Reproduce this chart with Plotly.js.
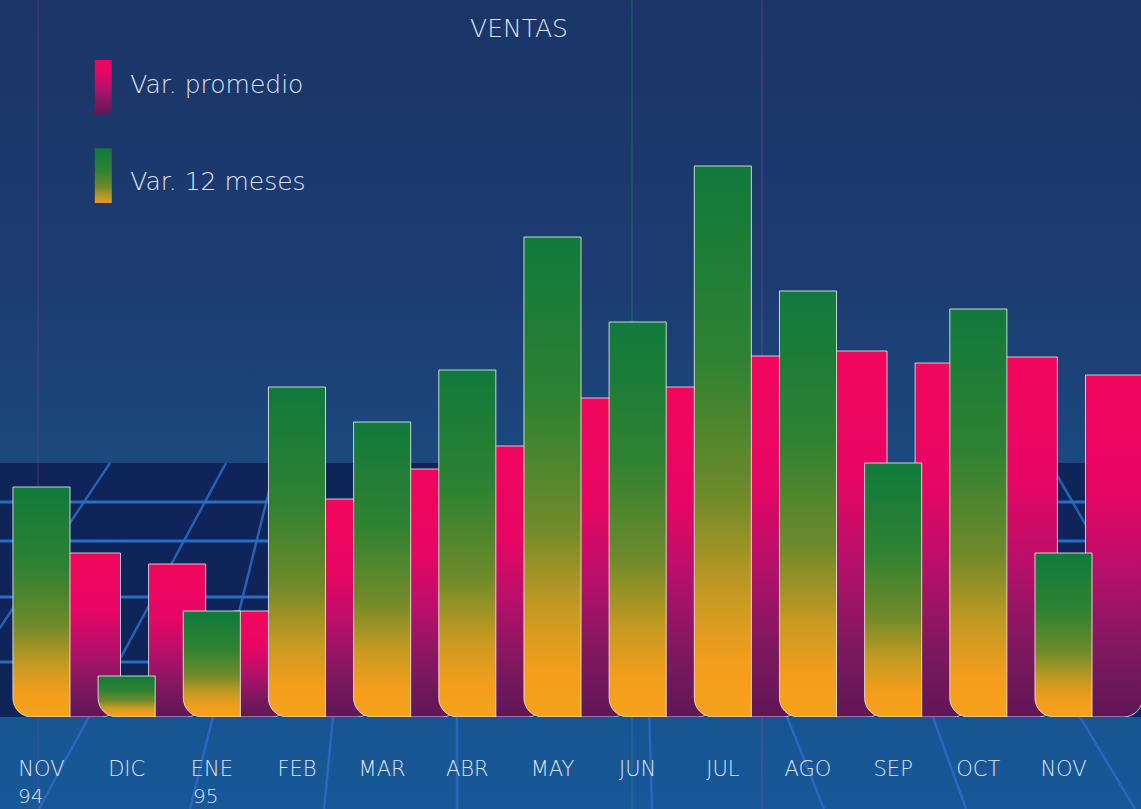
<!DOCTYPE html>
<html>
<head>
<meta charset="utf-8">
<script src="https://cdn.plot.ly/plotly-3.0.1.min.js"></script>
<style>
  html, body { margin: 0; padding: 0; }
  body { width: 1141px; height: 809px; overflow: hidden;
    background: linear-gradient(to bottom, #1b3567 0%, #1c3c71 35%, #1b487e 56%, #17528e 80%, #185898 100%); }
  #chart { width: 1141px; height: 809px; }
</style>
</head>
<body>
<div id="chart"></div>
<script>
// ---- data ----
var months = ['NOV', 'DIC', 'ENE', 'FEB', 'MAR', 'ABR', 'MAY', 'JUN', 'JUL', 'AGO', 'SEP', 'OCT', 'NOV'];
var years  = ['94', '', '95', '', '', '', '', '', '', '', '', '', ''];
var var12meses   = [23.0, 4.1, 10.6, 33.0, 29.5, 34.7, 48.0, 39.5, 55.1, 42.6, 25.4, 40.8, 16.4];
var varPromedio  = [16.4, 15.3, 10.6, 21.8, 24.8, 27.1, 31.9, 33.0, 36.1, 36.6, 35.4, 36.0, 34.2];
var seriesNames  = ['Var. promedio', 'Var. 12 meses'];
var chartTitle   = 'VENTAS';

var idx = months.map(function (m, i) { return i; });
var W = 1141, H = 809, baseY = 717, topY = 117;
function px2paperY(py) { return (baseY - py) / (baseY - topY); }
function px2paperX(px) { return px / W; }

var FONT = '"DejaVu Sans", "Noto Sans", sans-serif';
var TXT = '#dfe2f4';

var pinkTrace = {
  type: 'bar', name: seriesNames[0], legendgroup: 'p',
  x: idx, y: varPromedio, width: 0.67, offset: 0.258,
  marker: { color: '#e8085e', line: { color: 'rgba(235,225,240,0.85)', width: 1 } },
  hoverinfo: 'skip'
};
var greenTrace = {
  type: 'bar', name: seriesNames[1], legendgroup: 'g',
  x: idx, y: var12meses, width: 0.67, offset: -0.335,
  marker: { color: '#2a8a3a', line: { color: 'rgba(235,235,225,0.85)', width: 1 } },
  hoverinfo: 'skip'
};

// decorative background grid (perspective floor)
var shapes = [];
shapes.push({ type: 'rect', xref: 'paper', yref: 'paper', x0: 0, x1: 1,
  y0: px2paperY(717), y1: px2paperY(463), fillcolor: '#0f2458', line: { width: 0 }, layer: 'below' });
[502, 541, 597, 662].forEach(function (py) {
  shapes.push({ type: 'line', xref: 'paper', yref: 'paper', x0: 0, x1: 1,
    y0: px2paperY(py), y1: px2paperY(py), line: { color: '#2b6cc2', width: 3 }, layer: 'below' });
});
var diag = [[110, 463, -121, 809], [226, 463, 39, 809], [276, 463, 190, 809], [358, 463, 324, 809],
            [457, 600, 457, 809], [647, 640, 652, 809], [685, 463, 824, 809], [842, 463, 966, 809],
            [928, 463, 1135, 809], [1050, 463, 1250, 809]];
diag.forEach(function (d) {
  shapes.push({ type: 'line', xref: 'paper', yref: 'paper',
    x0: px2paperX(d[0]), y0: px2paperY(d[1]), x1: px2paperX(d[2]), y1: px2paperY(d[3]),
    line: { color: '#2c6cc4', width: 2.5 }, opacity: 0.85, layer: 'below' });
});
[[38, '#9a3c8c'], [632, '#2f9a78'], [762, '#9a4c9a'], [1236, '#9a4c9a']].forEach(function (v) {
  shapes.push({ type: 'line', xref: 'paper', yref: 'paper',
    x0: px2paperX(v[0]), x1: px2paperX(v[0]), y0: px2paperY(809), y1: px2paperY(0),
    line: { color: v[1], width: 1 }, opacity: 0.5, layer: 'below' });
});

var annotations = [];
years.forEach(function (y, i) {
  if (!y) return;
  annotations.push({ x: i, y: 0, xref: 'x', yref: 'y', text: y, showarrow: false,
    xanchor: 'left', yanchor: 'top', xshift: (i === 0 ? -24 : -20), yshift: -66, borderpad: 0,
    font: { family: FONT, size: 20, color: TXT, weight: 300 } });
});

var layout = {
  width: W, height: H,
  margin: { l: 0, r: 0, t: topY, b: H - baseY, pad: 0 },
  paper_bgcolor: 'rgba(0,0,0,0)', plot_bgcolor: 'rgba(0,0,0,0)',
  barmode: 'overlay',
  title: { text: chartTitle, x: 519 / W, xanchor: 'center', y: 1 - 28 / H, yanchor: 'middle',
    font: { family: FONT, size: 25, color: TXT, weight: 300 } },
  xaxis: { range: [-0.487, 12.91], tickvals: idx, ticktext: months, showgrid: false, zeroline: false,
    showline: false, ticks: '', ticklabelstandoff: 37,
    tickfont: { family: FONT, size: 21, color: TXT, weight: 300 }, fixedrange: true },
  yaxis: { range: [0, 60], visible: false, showgrid: false, zeroline: false, fixedrange: true },
  showlegend: true,
  legend: { x: 0.066, xanchor: 'left', y: px2paperY(60), yanchor: 'top', orientation: 'v',
    traceorder: 'grouped', tracegroupgap: 62, itemwidth: 45, bgcolor: 'rgba(0,0,0,0)',
    font: { family: FONT, size: 25, color: TXT, weight: 300 } },
  shapes: shapes,
  annotations: annotations
};

var gd = document.getElementById('chart');
Plotly.newPlot(gd, [pinkTrace, greenTrace], layout, { staticPlot: true, displayModeBar: false }).then(function () {
  var NS = 'http://www.w3.org/2000/svg';
  var svg = gd.querySelector('svg.main-svg');
  var defs = svg.querySelector('defs') || svg.insertBefore(document.createElementNS(NS, 'defs'), svg.firstChild);
  function grad(id, stops) {
    var g = document.createElementNS(NS, 'linearGradient');
    g.setAttribute('id', id); g.setAttribute('x1', '0'); g.setAttribute('y1', '0');
    g.setAttribute('x2', '0'); g.setAttribute('y2', '1');
    stops.forEach(function (s) {
      var st = document.createElementNS(NS, 'stop');
      st.setAttribute('offset', s[0]); st.setAttribute('stop-color', s[1]);
      g.appendChild(st);
    });
    defs.appendChild(g);
  }
  grad('gPink', [[0, '#f2065c'], [0.35, '#e60664'], [0.58, '#b5106a'], [0.8, '#80185f'], [1, '#5f1757']]);
  grad('gGreen', [[0, '#10793c'], [0.35, '#2f8232'], [0.6, '#6f8a2a'], [0.78, '#c89a22'], [0.9, '#f39d1c'], [1, '#f7a21c']]);
  var ids = ['gPink', 'gGreen'];
  // round only the outer bottom corner of each bar: bottom-right for pink, bottom-left for green
  var traces = gd.querySelectorAll('.barlayer .trace');
  traces.forEach(function (t, i) {
    t.querySelectorAll('path').forEach(function (p) {
      var b = p.getBBox();
      var x = b.x, y = b.y, w = b.width, h = b.height;
      var r = Math.min(19, h, w / 2);
      var d;
      if (i === 0) {
        d = 'M' + x + ',' + y + 'H' + (x + w) + 'V' + (y + h - r) +
            'A' + r + ',' + r + ' 0 0 1 ' + (x + w - r) + ',' + (y + h) + 'H' + x + 'Z';
      } else {
        d = 'M' + x + ',' + y + 'H' + (x + w) + 'V' + (y + h) + 'H' + (x + r) +
            'A' + r + ',' + r + ' 0 0 1 ' + x + ',' + (y + h - r) + 'Z';
      }
      p.setAttribute('d', d);
      p.style.fill = 'url(#' + ids[i] + ')';
    });
  });
  var shapesLegend = ['M-8,-32H9V24Q9,32 1,32H-13Q-8,30 -8,24Z', 'M-8,-32H9V24Q9,30 14,32H0Q-8,32 -8,24Z'];
  gd.querySelectorAll('.legend .traces').forEach(function (t, i) {
    t.querySelectorAll('.legendpoints path').forEach(function (p) {
      p.setAttribute('d', shapesLegend[i]);
      p.style.fill = 'url(#' + ids[i] + ')';
      p.style.stroke = 'none';
    });
  });
});
</script>
</body>
</html>
